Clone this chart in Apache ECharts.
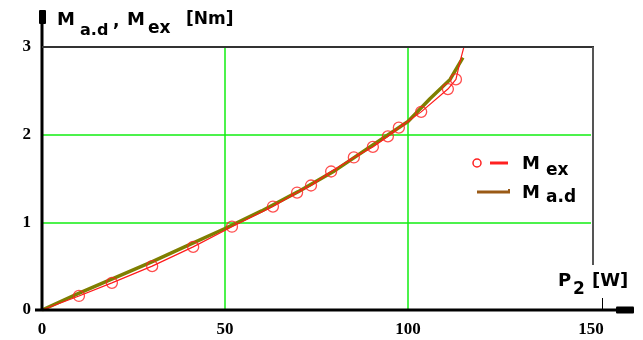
<!DOCTYPE html>
<html>
<head>
<meta charset="utf-8">
<script src="https://cdn.jsdelivr.net/npm/echarts@6/dist/echarts.min.js"></script>
<style>
  html, body { margin: 0; padding: 0; background: #fff; }
  #chart { width: 643px; height: 340px; }
</style>
</head>
<body>
<div id="chart"></div>
<script>
// tick values
var xTicks = [0, 50, 100, 150];
var yTicks = [0, 1, 2, 3];

// M_ex measured points (circles)
var mexX = [10.1, 19.1, 30.1, 41.3, 51.9, 63.1, 69.7, 73.5, 79.0, 85.2, 90.4, 94.5, 97.5, 103.6, 110.9, 113.1];
var mexY = [0.16, 0.31, 0.50, 0.72, 0.95, 1.18, 1.34, 1.42, 1.58, 1.74, 1.86, 1.98, 2.08, 2.26, 2.52, 2.63];

// M_ex red curve
var mexLineX = [0, 10.1, 19.1, 30.1, 41.3, 51.9, 63.1, 69.7, 73.5, 79.0, 85.2, 90.4, 94.5, 97.5, 103.6, 110.9, 113.1, 114.2, 115.4];
var mexLineY = [0, 0.16, 0.31, 0.50, 0.72, 0.95, 1.18, 1.34, 1.42, 1.58, 1.74, 1.86, 1.98, 2.08, 2.26, 2.52, 2.63, 2.83, 3.02];

// M_a.d curve
var madX = [0, 10, 20, 30, 40, 50, 60, 70, 80, 90, 100, 106, 111.5, 115];
var madY = [0, 0.19, 0.37, 0.55, 0.74, 0.93, 1.13, 1.35, 1.59, 1.87, 2.15, 2.41, 2.63, 2.88];

function pairs(xs, ys) {
  var out = [];
  for (var i = 0; i < xs.length; i++) {
    out.push([xs[i], ys[i]]);
  }
  return out;
}

var green = '#11ee11';
var labelFont = { fontFamily: 'Liberation Serif', fontWeight: 'bold', fontSize: 17, color: '#000' };
var sans = 'DejaVu Sans';

function txt(x, y, s, size, color) {
  return {
    type: 'text', left: x, top: y, z: 120,
    style: { text: s, fill: color || '#000', font: 'bold ' + size + 'px "' + sans + '"' }
  };
}
function seg(x1, y1, x2, y2, w, color) {
  return {
    type: 'line', z: 110,
    shape: { x1: x1, y1: y1, x2: x2, y2: y2 },
    style: { stroke: color, lineWidth: w }
  };
}

var chart = echarts.init(document.getElementById('chart'));

var option = {
  animation: false,
  grid: { left: 42, right: 52, top: 47, bottom: 30 },
  xAxis: {
    type: 'value',
    min: xTicks[0],
    max: xTicks[xTicks.length - 1],
    interval: 50,
    axisLine: { show: false },
    axisTick: { show: false },
    axisLabel: Object.assign({ margin: 11 }, labelFont),
    splitLine: { show: true, showMinLine: false, showMaxLine: false, lineStyle: { color: green, width: 1.5 } }
  },
  yAxis: {
    type: 'value',
    min: yTicks[0],
    max: yTicks[yTicks.length - 1],
    interval: 1,
    axisLine: { show: false },
    axisTick: { show: false },
    axisLabel: Object.assign({ margin: 11 }, labelFont),
    splitLine: { show: true, showMinLine: false, showMaxLine: false, lineStyle: { color: green, width: 1.5 } }
  },
  series: [
    {
      name: 'M a.d',
      type: 'line',
      data: pairs(madX, madY),
      showSymbol: false,
      lineStyle: { color: '#7f7f00', width: 3.5 },
      z: 2
    },
    {
      name: 'M ex line',
      type: 'line',
      data: pairs(mexLineX, mexLineY),
      showSymbol: false,
      lineStyle: { color: '#ff1a1a', width: 1.2 },
      z: 3
    },
    {
      name: 'M ex',
      type: 'scatter',
      data: pairs(mexX, mexY),
      symbol: 'circle',
      symbolSize: 11,
      itemStyle: { color: 'rgba(0,0,0,0)', borderColor: '#ff2020', borderWidth: 1.3 },
      z: 4
    }
  ],
  graphic: [
    // axes and frame
    seg(42, 311, 42, 18, 3, '#000'),
    { type: 'rect', z: 110, shape: { x: 39, y: 10, width: 7, height: 14, r: 1 }, style: { fill: '#000' } },
    seg(35, 310, 625, 310, 3, '#000'),
    { type: 'rect', z: 110, shape: { x: 616, y: 306.5, width: 18, height: 7, r: 1 }, style: { fill: '#000' } },
    seg(602.5, 298, 602.5, 309, 1, '#000'),
    seg(42, 47, 594, 47, 2, '#333'),
    seg(593, 47, 593, 265, 2, '#555'),
    // y axis title
    txt(57, 11, 'M', 18),
    txt(80, 23, 'a.d', 16),
    txt(113, 13, ',', 17),
    txt(127, 11, 'M', 18),
    txt(148, 20, 'ex', 17),
    txt(186, 11, '[Nm]', 17),
    // x axis title
    txt(558, 272, 'P', 18),
    txt(573, 281, '2', 17),
    txt(592, 272, '[W]', 18),
    // legend
    { type: 'circle', z: 120, shape: { cx: 477, cy: 163, r: 4 }, style: { fill: 'none', stroke: '#ff2020', lineWidth: 1.5 } },
    seg(490, 163, 508, 163, 3, '#ff2020'),
    txt(522, 155, 'M', 18),
    txt(546, 162, 'ex', 17),
    seg(477, 192, 510, 192, 3, '#9a5a16'),
    seg(509, 189, 509, 193, 2, '#9a5a16'),
    txt(522, 184, 'M', 18),
    txt(546, 189, 'a.d', 17)
  ]
};

chart.setOption(option);
</script>
</body>
</html>
